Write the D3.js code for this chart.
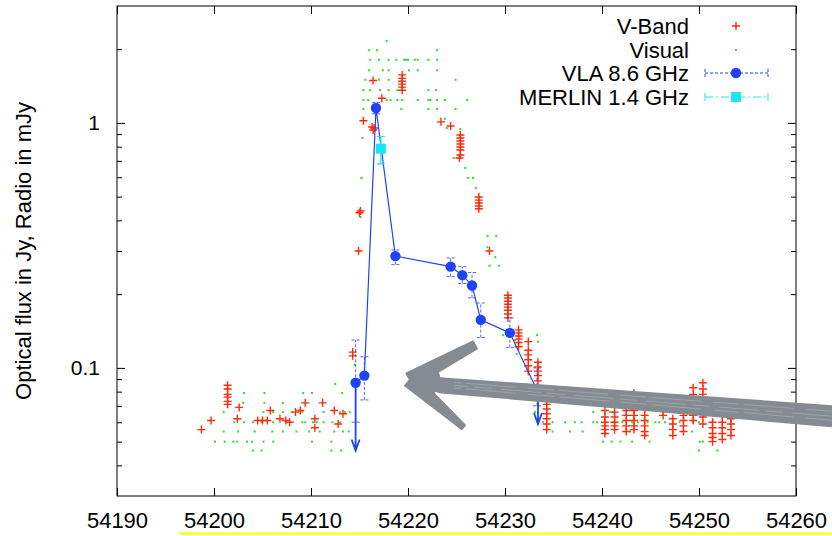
<!DOCTYPE html>
<html lang="en">
<head>
<meta charset="utf-8">
<title>light curve</title>
<style>
  body { margin: 0; background: #fff; }
  svg text { font-family: "Liberation Sans", Arial, sans-serif; fill: #000; }
</style>
</head>
<body>
<div id="chart"></div>
<script src="https://d3js.org/d3.v7.min.js"></script>
<script>
// axis ticks
const xTicks = [54190, 54200, 54210, 54220, 54230, 54240, 54250, 54260];
const yMajor = [0.1, 1];
const yMajorLabels = ["0.1", "1"];
const yMinor = [0.04, 0.05, 0.06, 0.07, 0.08, 0.09, 0.2, 0.3, 0.4, 0.5, 0.6, 0.7, 0.8, 0.9, 2];
const yTitle = "Optical flux in Jy, Radio in mJy";
const legendLabels = ["V-Band", "Visual", "VLA 8.6 GHz", "MERLIN 1.4 GHz"];

// V-Band photometry [MJD, Jy]
const vband = [
  [54198.7,0.056],[54199.7,0.061],
  [54201.4,0.085],[54201.4,0.082],[54201.4,0.078],[54201.4,0.076],[54201.4,0.073],[54201.4,0.071],
  [54202.4,0.062],[54202.6,0.069],[54204.5,0.061],[54205.0,0.061],[54205.5,0.061],[54205.8,0.067],
  [54206.8,0.062],[54207.4,0.061],[54207.8,0.060],[54208.4,0.066],[54208.9,0.067],[54209.4,0.072],
  [54210.4,0.062],[54210.4,0.057],[54211.2,0.072],[54212.4,0.067],[54212.8,0.059],[54213.3,0.065],
  [54214.3,0.116],[54214.3,0.112],[54214.9,0.300],[54215.0,0.43],[54215.1,0.437],
  [54215.4,1.02],[54216.3,0.962],[54216.4,0.935],[54216.5,0.953],[54216.4,1.49],[54217.3,1.26],
  [54219.4,1.57],[54219.4,1.52],[54219.4,1.48],[54219.4,1.44],[54219.4,1.40],[54219.4,1.36],
  [54223.4,1.01],[54224.4,0.971],
  [54225.4,0.892],[54225.4,0.868],[54225.4,0.844],[54225.4,0.820],[54225.4,0.797],[54225.4,0.775],[54225.4,0.740],[54225.3,0.719],
  [54227.3,0.498],[54227.3,0.484],[54227.3,0.471],[54227.3,0.458],[54227.3,0.446],
  [54228.4,0.300],
  [54230.3,0.198],[54230.3,0.193],[54230.3,0.187],[54230.3,0.182],[54230.3,0.177],[54230.3,0.172],[54230.3,0.166],[54230.3,0.160],
  [54231.4,0.143],[54231.4,0.139],[54231.4,0.135],[54231.4,0.131],[54231.4,0.127],[54231.4,0.122],
  [54232.4,0.128],[54232.4,0.118],[54232.4,0.113],[54232.4,0.108],[54232.4,0.102],[54232.4,0.097],
  [54233.4,0.1055],[54233.4,0.101],[54233.4,0.097],[54233.4,0.093],[54233.4,0.0885],
  [54234.3,0.074],[54234.3,0.071],[54234.3,0.068],[54234.3,0.065],[54234.3,0.062],[54234.3,0.059],[54234.3,0.056],
  [54240.3,0.067],[54240.3,0.063],[54240.3,0.060],[54240.3,0.058],[54240.3,0.056],[54240.3,0.054],
  [54241.3,0.066],[54241.3,0.063],[54241.3,0.060],[54241.3,0.058],[54241.3,0.056],
  [54242.5,0.070],[54242.5,0.067],[54242.5,0.064],[54242.5,0.061],[54242.5,0.058],[54242.5,0.055],
  [54243.3,0.079],[54243.3,0.067],[54243.3,0.064],[54243.3,0.061],[54243.3,0.058],[54243.3,0.056],
  [54244.4,0.068],[54244.4,0.064],[54244.4,0.061],[54244.4,0.058],[54244.4,0.055],[54244.4,0.053],
  [54246.3,0.067],[54246.3,0.064],
  [54247.3,0.062],[54247.3,0.059],[54247.3,0.056],[54247.3,0.053],
  [54248.4,0.064],[54248.4,0.061],[54248.4,0.058],[54248.4,0.055],
  [54249.4,0.083],[54249.4,0.078],[54249.4,0.068],[54249.4,0.064],[54249.4,0.061],
  [54250.4,0.087],[54250.4,0.082],[54250.4,0.078],[54250.4,0.067],[54250.4,0.063],[54250.4,0.059],
  [54251.4,0.060],[54251.4,0.057],[54251.4,0.054],[54251.4,0.052],[54251.4,0.050],
  [54252.4,0.064],[54252.4,0.060],[54252.4,0.057],[54252.4,0.054],[54252.4,0.051],
  [54253.3,0.062],[54253.3,0.059],[54253.3,0.056],[54253.3,0.053]
];

// visual estimates [MJD, Jy]
const visual = [
  [54203.1,0.079],[54205.2,0.079],[54209.2,0.079],[54210.1,0.079],[54213.2,0.079],[54239.4,0.079],[54212.5,0.086],
  [54203.0,0.072],[54205.2,0.072],[54207.1,0.072],
  [54201.0,0.066],[54205.1,0.066],[54206.1,0.066],[54207.1,0.066],[54208.0,0.066],[54209.1,0.066],[54211.3,0.066],
  [54213.0,0.066],[54213.5,0.066],[54214.0,0.066],[54233.1,0.066],[54239.1,0.066],[54240.8,0.066],[54241.1,0.066],
  [54246.3,0.066],[54249.3,0.066],
  [54202.1,0.060],[54203.1,0.060],[54204.0,0.060],[54204.9,0.060],[54206.1,0.060],[54209.1,0.060],[54209.4,0.060],
  [54210.2,0.060],[54210.6,0.060],[54211.3,0.060],[54212.2,0.060],[54213.0,0.060],[54233.9,0.060],[54234.9,0.060],
  [54236.2,0.060],[54237.2,0.060],[54237.9,0.060],[54239.1,0.060],[54239.5,0.060],[54241.1,0.060],[54242.1,0.060],
  [54243.1,0.060],[54243.7,0.060],[54244.7,0.060],[54245.5,0.060],[54245.9,0.060],[54246.5,0.060],[54248.0,0.060],
  [54249.4,0.060],[54250.0,0.060],
  [54201.0,0.055],[54202.5,0.055],[54204.2,0.055],[54206.0,0.055],[54207.1,0.055],[54208.5,0.055],[54209.8,0.055],
  [54210.9,0.055],[54212.4,0.055],[54213.3,0.055],[54213.9,0.055],[54234.9,0.055],[54236.7,0.055],[54238.0,0.055],
  [54242.9,0.055],[54249.3,0.055],
  [54200.1,0.050],[54201.1,0.050],[54202.0,0.050],[54202.4,0.050],[54203.4,0.050],[54203.9,0.050],[54205.1,0.050],
  [54206.1,0.050],[54210.1,0.050],[54212.1,0.050],[54240.1,0.050],[54241.0,0.050],[54241.9,0.050],[54243.1,0.050],
  [54244.9,0.050],[54250.1,0.050],[54250.4,0.050],
  [54204.0,0.046],[54204.9,0.046],[54212.1,0.046],[54213.1,0.046],[54250.0,0.046],[54251.9,0.046],
  [54217.8,2.16],
  [54216.0,1.98],[54216.8,1.98],[54223.0,1.98],
  [54216.1,1.81],[54217.0,1.81],[54218.0,1.81],[54218.8,1.81],[54219.6,1.81],[54219.8,1.81],[54220.0,1.81],
  [54220.7,1.81],[54221.0,1.81],[54222.1,1.81],[54223.0,1.81],
  [54216.0,1.64],[54217.4,1.64],[54218.0,1.64],[54220.1,1.64],[54221.0,1.64],[54223.0,1.64],
  [54215.6,1.50],[54217.0,1.50],[54218.0,1.50],[54224.9,1.50],
  [54215.4,1.36],[54216.1,1.36],[54217.1,1.36],[54218.0,1.36],[54218.9,1.36],[54222.1,1.36],[54222.9,1.36],
  [54215.4,1.24],[54215.9,1.24],[54217.8,1.24],[54218.2,1.24],[54218.9,1.24],[54219.4,1.24],[54221.0,1.24],
  [54222.1,1.24],[54222.3,1.24],[54223.0,1.24],[54223.8,1.24],[54226.1,1.24],
  [54215.4,1.14],[54219.3,1.14],[54222.1,1.14],[54223.0,1.14],[54224.9,1.14],
  [54223.8,1.04],[54224.0,0.953],[54225.4,0.944],[54224.7,0.719],[54225.9,0.655],[54226.2,0.596],[54226.7,0.596],
  [54227.0,0.542],[54215.2,0.596],[54215.3,0.868],[54215.1,0.413],[54228.2,0.345],[54229.1,0.345],[54228.2,0.311],
  [54229.0,0.283],[54228.4,0.261],[54229.4,0.261],[54229.8,0.136],[54231.0,0.130],[54231.2,0.114],[54233.3,0.136],
  [54233.4,0.128],[54232.2,0.086],[54214.5,0.103]
];

// VLA 8.6 GHz, mJy
const vlaMjd  = [54214.6, 54215.5, 54216.7, 54218.7, 54224.4, 54225.6, 54226.6, 54227.5, 54230.5, 54233.3];
const vlaFlux = [0.087, 0.093, 1.15, 0.286, 0.259, 0.239, 0.217, 0.157, 0.139, 0.081];
const vlaLo   = [0.060, 0.074, 1.09, 0.264, 0.236, 0.221, 0.193, 0.133, 0.121, 0.070];
const vlaHi   = [0.130, 0.111, 1.21, 0.303, 0.281, 0.259, 0.245, 0.184, 0.160, 0.100];
// upper limit arrows [MJD, from, to]
const vlaLimits = [[54214.6, 0.087, 0.046], [54233.4, 0.081, 0.059]];

// MERLIN 1.4 GHz, mJy
const merlinMjd  = [54217.2];
const merlinFlux = [0.785];
const merlinLo   = [0.68];
const merlinHi   = [0.88];

// hand drawn pointer [MJD, flux]
const pointerTail = [54263.7, 0.0635];
const pointerNeck = [54223.5, 0.0848];
const pointerTip  = [54220.2, 0.0893];
const pointerBarbs = [[54226.9, 0.124], [54225.7, 0.0573]];

const W = 832, H = 536;
const red = "#ff2a0a", green = "#2edc2e", blue = "#1f43f5", cyan = "#18e6f2", grey = "#848b93";

const svg = d3.select("#chart").append("svg")
    .attr("width", W)
    .attr("height", H);

const x = d3.scaleLinear().domain([54190, 54260]).range([117, 796]);
const y = d3.scaleLog().domain([0.03, 3]).range([496, 6]);

// axes
function styleAxis(g, size) {
    g.attr("font-family", null).attr("font-size", size);
    g.select(".domain").remove();
    g.selectAll(".tick line").attr("stroke", "#000");
}

svg.append("g").attr("transform", "translate(0,496)")
    .call(d3.axisBottom(x).tickValues(xTicks).tickSize(-8).tickPadding(16).tickFormat(d3.format("d")))
    .call(g => styleAxis(g, 22));
svg.append("g").attr("transform", "translate(0,6)")
    .call(d3.axisTop(x).tickValues(xTicks).tickSize(-8).tickFormat(""))
    .call(g => styleAxis(g, 22));
svg.append("g").attr("transform", "translate(117,0)")
    .call(d3.axisLeft(y).tickValues(yMajor).tickSize(-8).tickPadding(17)
        .tickFormat(function(d, i) { return yMajorLabels[i]; }))
    .call(g => styleAxis(g, 21));
svg.append("g").attr("transform", "translate(117,0)")
    .call(d3.axisLeft(y).tickValues(yMinor).tickSize(-5).tickFormat(""))
    .call(g => styleAxis(g, 21));
svg.append("g").attr("transform", "translate(796,0)")
    .call(d3.axisRight(y).tickValues(yMajor).tickSize(-8).tickFormat(""))
    .call(g => styleAxis(g, 21));
svg.append("g").attr("transform", "translate(796,0)")
    .call(d3.axisRight(y).tickValues(yMinor).tickSize(-5).tickFormat(""))
    .call(g => styleAxis(g, 21));

svg.append("rect")
    .attr("x", x.range()[0]).attr("y", y.range()[1])
    .attr("width", x.range()[1] - x.range()[0])
    .attr("height", y.range()[0] - y.range()[1])
    .attr("fill", "none").attr("stroke", "#000").attr("stroke-width", 1);

svg.append("text")
    .attr("transform", "translate(31," + ((y.range()[0] + y.range()[1]) / 2) + ") rotate(-90)")
    .attr("text-anchor", "middle")
    .attr("font-size", 22)
    .text(yTitle);

// visual dots
svg.append("g").selectAll("rect").data(visual).enter().append("rect")
    .attr("x", function(d) { return x(d[0]) - 1; })
    .attr("y", function(d) { return y(d[1]) - 1; })
    .attr("width", 2).attr("height", 2)
    .attr("fill", green);

// V-band pluses
svg.append("g").selectAll("path").data(vband).enter().append("path")
    .attr("transform", function(d) { return "translate(" + x(d[0]) + "," + y(d[1]) + ")"; })
    .attr("d", "M-4,0H4M0,-4V4")
    .attr("stroke", red).attr("stroke-width", 1.4).attr("fill", "none");

// VLA
const vla = vlaMjd.map(function(m, i) { return {m: m, f: vlaFlux[i], lo: vlaLo[i], hi: vlaHi[i]}; });
const vg = svg.append("g");
vg.selectAll("line.err").data(vla).enter().append("line")
    .attr("x1", function(d) { return x(d.m); }).attr("x2", function(d) { return x(d.m); })
    .attr("y1", function(d) { return y(d.lo); }).attr("y2", function(d) { return y(d.hi); })
    .attr("stroke", blue).attr("stroke-width", 1).attr("stroke-dasharray", "3,2").attr("opacity", 0.8);
vg.selectAll("path.cap").data(vla).enter().append("path")
    .attr("d", function(d) {
        const cx = x(d.m);
        return "M" + (cx - 4) + "," + y(d.lo) + "H" + (cx + 4) + "M" + (cx - 4) + "," + y(d.hi) + "H" + (cx + 4);
    })
    .attr("stroke", blue).attr("stroke-width", 1).attr("stroke-dasharray", "3,2").attr("opacity", 0.8);
vg.append("path").datum(vla)
    .attr("d", d3.line().x(function(d) { return x(d.m); }).y(function(d) { return y(d.f); }))
    .attr("fill", "none").attr("stroke", blue).attr("stroke-width", 1.2);
vg.selectAll("path.lim").data(vlaLimits).enter().append("path")
    .attr("d", function(d) {
        const cx = x(d[0]), y0 = y(d[1]), y1 = y(d[2]);
        return "M" + cx + "," + y0 + "V" + y1 +
            "M" + (cx - 4) + "," + (y1 - 11) + "L" + cx + "," + y1 + "L" + (cx + 4) + "," + (y1 - 11);
    })
    .attr("fill", "none").attr("stroke", blue).attr("stroke-width", 1.8);
vg.selectAll("circle").data(vla).enter().append("circle")
    .attr("cx", function(d) { return x(d.m); }).attr("cy", function(d) { return y(d.f); })
    .attr("r", 5.2).attr("fill", blue);

// MERLIN
const mg = svg.append("g");
merlinMjd.forEach(function(m, i) {
    const cx = x(m);
    mg.append("path")
        .attr("d", "M" + cx + "," + y(merlinLo[i]) + "V" + y(merlinHi[i]) +
            "M" + (cx - 4) + "," + y(merlinLo[i]) + "H" + (cx + 4) +
            "M" + (cx - 4) + "," + y(merlinHi[i]) + "H" + (cx + 4))
        .attr("stroke", cyan).attr("stroke-width", 1.2).attr("fill", "none");
    mg.append("rect")
        .attr("x", cx - 5).attr("y", y(merlinFlux[i]) - 5)
        .attr("width", 10).attr("height", 10)
        .attr("fill", cyan);
});

// hand drawn pointer
function taper(a, b, wa, wb) {
    const dx = b[0] - a[0], dy = b[1] - a[1], len = Math.hypot(dx, dy);
    const nx = -dy / len, ny = dx / len;
    return [
        [a[0] + nx * wa / 2, a[1] + ny * wa / 2],
        [b[0] + nx * wb / 2, b[1] + ny * wb / 2],
        [b[0] - nx * wb / 2, b[1] - ny * wb / 2],
        [a[0] - nx * wa / 2, a[1] - ny * wa / 2]
    ];
}
function px(p) { return [x(p[0]), y(p[1])]; }
function along(a, b, t) { return [a[0] + (b[0] - a[0]) * t, a[1] + (b[1] - a[1]) * t]; }
const pg = svg.append("g");
const tail = px(pointerTail), neck = px(pointerNeck), tip = px(pointerTip);
const barbUp = px(pointerBarbs[0]), barbDown = px(pointerBarbs[1]);
const pieces = [
    taper(tail, neck, 20, 14),
    taper(tip, barbUp, 15, 8),
    taper(tip, barbDown, 15, 5),
    taper(tip, neck, 9, 14),
    [tip, along(tip, barbUp, 0.4), neck, along(tip, barbDown, 0.35)]
];
pg.selectAll("path").data(pieces).enter().append("path")
    .attr("d", function(d) { return "M" + d.join("L") + "Z"; })
    .attr("fill", grey).attr("stroke", grey).attr("stroke-width", 2).attr("stroke-linejoin", "round");
[-5, 0, 4].forEach(function(off, i) {
    pg.append("line")
        .attr("x1", tail[0]).attr("y1", tail[1] + off)
        .attr("x2", neck[0] + 12).attr("y2", neck[1] + off * 0.6)
        .attr("stroke", "#a9aeb4").attr("stroke-width", 1)
        .attr("stroke-dasharray", i % 2 ? "40,9,18,6" : "26,12,50,5")
        .attr("opacity", 0.7);
});

// legend
const lg = svg.append("g");
const legendY = [26, 50, 73, 97];
lg.selectAll("text").data(legendLabels).enter().append("text")
    .attr("x", 689).attr("y", function(d, i) { return legendY[i] + 7.5; })
    .attr("text-anchor", "end").attr("font-size", 22)
    .text(function(d) { return d; });
lg.append("path").attr("transform", "translate(736," + legendY[0] + ")")
    .attr("d", "M-4,0H4M0,-4V4").attr("stroke", red).attr("stroke-width", 1.4);
lg.append("rect").attr("x", 735).attr("y", legendY[1] - 1).attr("width", 2).attr("height", 2).attr("fill", green);
lg.append("path")
    .attr("d", "M705," + legendY[2] + "H768M705," + (legendY[2] - 4) + "V" + (legendY[2] + 4) +
        "M768," + (legendY[2] - 4) + "V" + (legendY[2] + 4))
    .attr("stroke", blue).attr("stroke-width", 1).attr("stroke-dasharray", "3,2");
lg.append("circle").attr("cx", 736).attr("cy", legendY[2]).attr("r", 5.2).attr("fill", blue);
lg.append("path")
    .attr("d", "M705," + legendY[3] + "H768M705," + (legendY[3] - 4) + "V" + (legendY[3] + 4) +
        "M768," + (legendY[3] - 4) + "V" + (legendY[3] + 4))
    .attr("stroke", cyan).attr("stroke-width", 1).attr("stroke-dasharray", "8,3,2,3");
lg.append("rect").attr("x", 731).attr("y", legendY[3] - 5).attr("width", 10).attr("height", 10).attr("fill", cyan);

// yellow underline of the slide
svg.append("rect").attr("x", 179).attr("y", 532).attr("width", W - 179).attr("height", 3).attr("fill", "#ffff40");
</script>
</body>
</html>
